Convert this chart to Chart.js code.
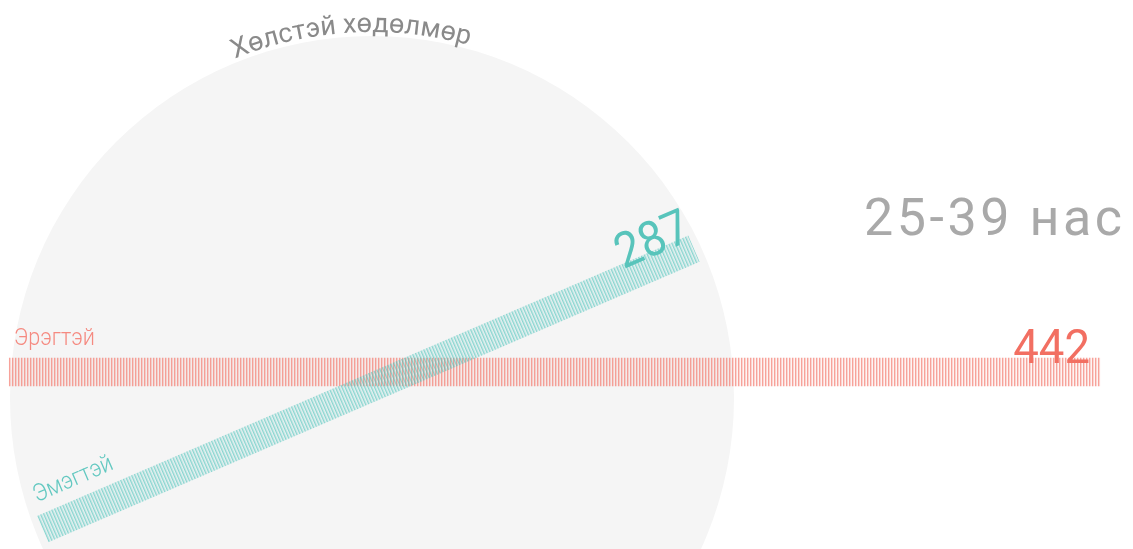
<!DOCTYPE html>
<html>
<head>
<meta charset="utf-8">
<script src="https://cdn.jsdelivr.net/npm/chart.js@4.4.1/dist/chart.umd.min.js"></script>
<style>
    html, body { margin: 0; background: #fff; }
    #wrap { width: 1133px; height: 549px; position: relative; }
</style>
</head>
<body>
<div id="wrap"><canvas id="c"></canvas></div>
<script>
const categories = ['Эрэгтэй', 'Эмэгтэй'];
const values = [442, 287];
const chartTitle = 'Хөлстэй хөдөлмөр';
const ageGroup = '25-39 нас';
const stripeColors = ['242, 112, 100', '80, 196, 188'];
const nameColors = ['#f58a80', '#62c8c0'];
const valueColors = ['#f26f62', '#58c4bb'];

document.addEventListener('DOMContentLoaded', function () {
    const canvas = document.getElementById('c');
    const ctx = canvas.getContext('2d');

    // thin vertical stripes, like the original fill
    function stripes(rgb) {
        const p = document.createElement('canvas');
        p.width = 3;
        p.height = 3;
        const g = p.getContext('2d');
        g.fillStyle = `rgba(${rgb}, 0.65)`;
        g.fillRect(0, 0, 1, 3);
        g.fillStyle = `rgba(${rgb}, 0.3)`;
        g.fillRect(1, 0, 1, 3);
        g.fillStyle = `rgba(${rgb}, 0.08)`;
        g.fillRect(2, 0, 1, 3);
        return ctx.createPattern(p, 'repeat');
    }

    // second bar is tilted and moved onto the circle
    const tilt = { angle: -23.3 * Math.PI / 180, x: 43, y: 529 };
    const disc = { x: 372, y: 398, r: 362 };
    const valueShift = [-10, 4];

    function spacingFor(c, text, target) {
        c.letterSpacing = '0px';
        const w = c.measureText(text).width;
        return (target - w) / (text.length - 1);
    }

    const decor = {
        id: 'decor',
        beforeDraw(chart) {
            const c = chart.ctx;
            c.save();
            c.fillStyle = '#f5f5f5';
            c.beginPath();
            c.arc(disc.x, disc.y, disc.r, 0, Math.PI * 2);
            c.fill();

            // title bent over the circle
            c.font = '400 27px Roboto';
            c.fillStyle = '#8a8a8a';
            c.textAlign = 'center';
            c.textBaseline = 'alphabetic';
            const R = 366;
            const sp = spacingFor(c, chartTitle, 238);
            const widths = [...chartTitle].map(ch => c.measureText(ch).width);
            const total = widths.reduce((a, b) => a + b, 0) + sp * (widths.length - 1);
            let a0 = -0.058 - total / (2 * R);
            let acc = 0;
            [...chartTitle].forEach((ch, i) => {
                const a = a0 + (acc + widths[i] / 2) / R;
                c.save();
                c.translate(disc.x + R * Math.sin(a), disc.y - R * Math.cos(a));
                c.rotate(a);
                c.fillText(ch, 0, 0);
                c.restore();
                acc += widths[i] + sp;
            });

            c.font = '400 52px Roboto';
            c.fillStyle = '#a9a9a9';
            c.textAlign = 'left';
            c.letterSpacing = spacingFor(c, ageGroup, 258) + 'px';
            c.fillText(ageGroup, 864, 235);
            c.restore();
        },
        beforeDatasetsDraw(chart) {
            const c = chart.ctx;
            const meta = chart.getDatasetMeta(0);
            meta.data.forEach((el, i) => {
                const { x, y, base } = el.getProps(['x', 'y', 'base'], true);
                c.save();
                if (i === 1) {
                    c.translate(tilt.x, tilt.y);
                    c.rotate(tilt.angle);
                    c.translate(-base, -y);
                }
                el.draw(c);

                c.textBaseline = 'alphabetic';
                c.letterSpacing = '0px';
                c.save();
                c.translate(base + 5, y - 27);
                c.scale(0.9, 1);
                c.font = '300 24px Roboto';
                c.fillStyle = nameColors[i];
                c.textAlign = 'left';
                c.fillText(categories[i], 0, 0);
                c.restore();

                c.save();
                c.translate(x + valueShift[i], y - 9);
                c.scale(0.93, 1);
                c.font = '400 49px Roboto';
                c.fillStyle = valueColors[i];
                c.textAlign = 'right';
                c.fillText(String(values[i]), 0, 0);
                c.restore();
                c.restore();
            });
            return false;
        }
    };

    new Chart(ctx, {
        type: 'bar',
        data: {
            labels: categories,
            datasets: [{
                data: values,
                backgroundColor: stripeColors.map(stripes),
                borderWidth: 0,
                barThickness: 28
            }]
        },
        options: {
            indexAxis: 'y',
            responsive: true,
            maintainAspectRatio: false,
            animation: false,
            layout: { padding: { left: 9, right: 33, top: 316, bottom: 9 } },
            scales: {
                x: { display: false, min: 0, max: 442 },
                y: { display: false }
            },
            plugins: {
                legend: { display: false },
                tooltip: { enabled: false }
            }
        },
        plugins: [decor]
    });
});
</script>
</body>
</html>
